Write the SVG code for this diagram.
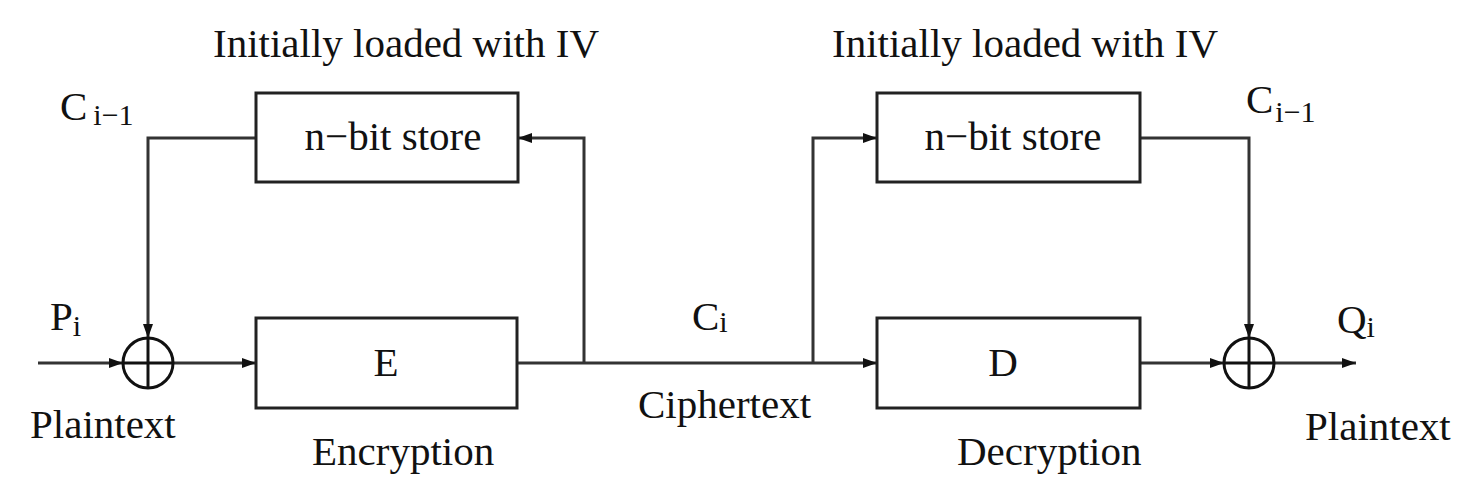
<svg xmlns="http://www.w3.org/2000/svg" width="1468" height="492" viewBox="0 0 1468 492">
<style>
text{font-family:"Liberation Serif","Times New Roman",serif;fill:#111;font-size:41px}
.sub{font-size:30px}
.box{fill:#fff;stroke:#222;stroke-width:3}
.ln{fill:none;stroke:#333;stroke-width:3}
.xor{fill:none;stroke:#111;stroke-width:3}
</style>
<defs>
<marker id="ah" viewBox="0 0 14 10" refX="14" refY="5" markerWidth="14" markerHeight="10" markerUnits="userSpaceOnUse" orient="auto">
<path d="M0,0 L14,5 L0,10 z" fill="#111"/>
</marker>
</defs>
<rect width="1468" height="492" fill="#fff"/>
<g id="connectors">
<line class="ln" x1="38" y1="363" x2="123" y2="363" marker-end="url(#ah)"/>
<line class="ln" x1="173" y1="363" x2="256" y2="363" marker-end="url(#ah)"/>
<polyline class="ln" points="256,138 148,138 148,338" marker-end="url(#ah)"/>
<line class="ln" x1="517" y1="363" x2="877" y2="363" marker-end="url(#ah)"/>
<polyline class="ln" points="584,363 584,138 518,138" marker-end="url(#ah)"/>
<polyline class="ln" points="813,363 813,138 877,138" marker-end="url(#ah)"/>
<line class="ln" x1="1140" y1="363" x2="1224" y2="363" marker-end="url(#ah)"/>
<polyline class="ln" points="1140,138 1249,138 1249,338" marker-end="url(#ah)"/>
<line class="ln" x1="1274" y1="363" x2="1356" y2="363" marker-end="url(#ah)"/>
</g>
<g id="xor1">
<circle class="xor" cx="148" cy="363" r="25"/>
<line class="xor" x1="123" y1="363" x2="173" y2="363"/>
<line class="xor" x1="148" y1="338" x2="148" y2="388"/>
</g>
<g id="xor2">
<circle class="xor" cx="1249" cy="363" r="25"/>
<line class="xor" x1="1224" y1="363" x2="1274" y2="363"/>
<line class="xor" x1="1249" y1="338" x2="1249" y2="388"/>
</g>
<g id="store1">
<rect class="box" x="256" y="93" width="262" height="89"/>
<text x="393" y="150" text-anchor="middle">n−bit store</text>
</g>
<g id="enc">
<rect class="box" x="256" y="318" width="261" height="90"/>
<text x="386" y="376" text-anchor="middle">E</text>
</g>
<g id="store2">
<rect class="box" x="877" y="93" width="263" height="89"/>
<text x="1013" y="150" text-anchor="middle">n−bit store</text>
</g>
<g id="dec">
<rect class="box" x="877" y="318" width="263" height="90"/>
<text x="1003" y="376" text-anchor="middle">D</text>
</g>
<g id="labels">
<text x="213" y="57">Initially loaded with IV</text>
<text x="832" y="57">Initially loaded with IV</text>
<text x="60" y="120">C<tspan class="sub" dx="6" dy="5">i−1</tspan></text>
<text x="1246" y="113">C<tspan class="sub" dx="2" dy="9">i−1</tspan></text>
<text x="50" y="330">P<tspan class="sub" dy="6">i</tspan></text>
<text x="692" y="330">C<tspan class="sub" dy="2">i</tspan></text>
<text x="1337" y="333">Q<tspan class="sub" dy="4">i</tspan></text>
<text x="30" y="438">Plaintext</text>
<text x="638" y="418">Ciphertext</text>
<text x="312" y="465">Encryption</text>
<text x="957" y="465">Decryption</text>
<text x="1305" y="440">Plaintext</text>
</g>
</svg>
